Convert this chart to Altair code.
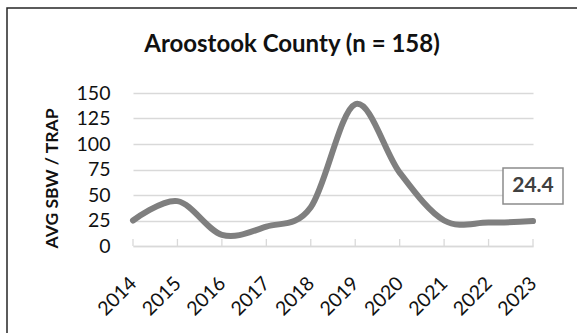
import altair as alt
import pandas as pd

years = ["2014", "2015", "2016", "2017", "2018", "2019", "2020", "2021", "2022", "2023"]
values = [25, 44, 11, 19, 38, 139, 72, 25, 23, 24.4]
y_ticks = [0, 25, 50, 75, 100, 125, 150]
label_text = ["", "", "", "", "", "", "", "", "", "24.4"]

df = pd.DataFrame({"year": years, "value": values, "label": label_text})
last = df[df["label"] != ""]

W, H = 400, 153
FONT = "Lato"

x_enc = alt.X(
    "year:O",
    scale=alt.Scale(type="point", padding=0),
    axis=alt.Axis(
        title=None, labelAngle=-45, labelAlign="right", labelBaseline="middle",
        labelPadding=34, labelFontSize=19.5, labelFont=FONT, labelColor="#111111",
        labelOverlap=False, ticks=False, domain=True, domainColor="#d9d9d9",
        domainWidth=1.5, grid=False,
    ),
)
y_enc = alt.Y(
    "value:Q",
    scale=alt.Scale(domain=[0, 150], nice=False),
    axis=alt.Axis(
        values=y_ticks, title="AVG SBW / TRAP", titleFont=FONT, titleFontSize=17.5,
        titleFontWeight="bold", titleColor="#111111", titleAngle=270, titleX=-81,
        titleY=85, titleAlign="center", titleBaseline="middle",
        labelFontSize=19.5, labelFont=FONT, labelColor="#111111", labelPadding=23,
        labelOverlap=False, ticks=False, domain=False, grid=True,
        gridColor="#d9d9d9", gridWidth=1.3,
    ),
)

base = alt.Chart(df)

border = base.mark_rect(filled=False, stroke="#262626", strokeWidth=1.5).encode(
    x=alt.value(-126), x2=alt.value(W + 100), y=alt.value(-85), y2=alt.value(H + 120)
).transform_filter("datum.label != ''")

ticks = base.mark_rule(color="#d9d9d9", strokeWidth=1.3).encode(
    x=x_enc, y=alt.value(H - 7), y2=alt.value(H),
)

line = base.mark_line(
    color="#7f7f7f", strokeWidth=6, interpolate="cardinal", strokeCap="round", strokeJoin="round"
).encode(x=x_enc, y=y_enc)

box = alt.Chart(last).mark_point(
    shape="M-1,-0.6L1,-0.6L1,0.6L-1,0.6Z", size=3600, filled=True, fill="white",
    stroke="#8c8c8c", strokeWidth=1.5, opacity=1, yOffset=-35,
).encode(x=x_enc, y=y_enc)

txt = alt.Chart(last).mark_text(
    font=FONT, fontSize=21, fontWeight="bold", color="#404040", dy=-35, baseline="middle"
).encode(x=x_enc, y=y_enc, text="label:N")

chart = alt.layer(border, ticks, line, box, txt).properties(
    width=W, height=H,
    background="white",
    title=alt.TitleParams(
        "Aroostook County (n = 158)", font=FONT, fontSize=24, fontWeight="bold",
        color="#111111", anchor="middle", frame="group", dx=-41, offset=0, dy=69,
        baseline="alphabetic",
    ),
    autosize=alt.AutoSizeParams(type="none"),
    padding={"left": 133, "top": 93, "right": 44, "bottom": 87},
).configure_view(strokeWidth=0, stroke="transparent")

chart.save("out.html", embed_options={"renderer": "svg", "actions": False})
